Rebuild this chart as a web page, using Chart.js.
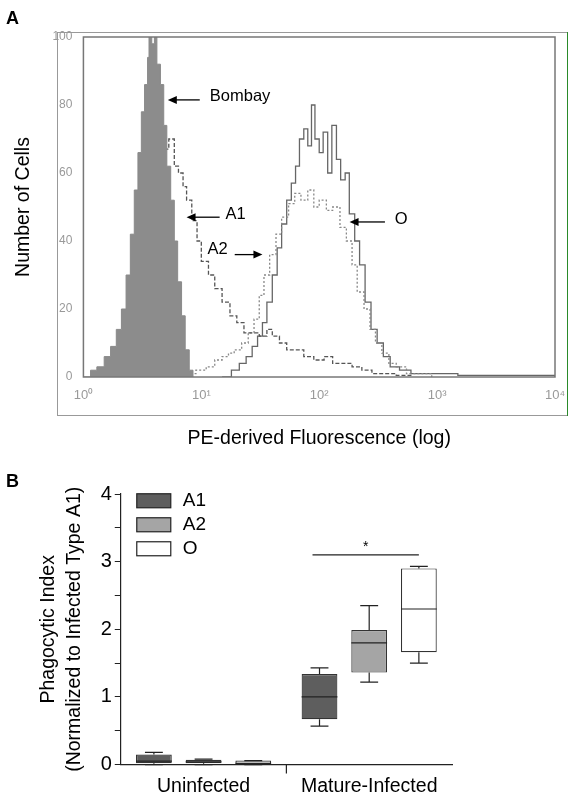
<!DOCTYPE html>
<html>
<head>
<meta charset="utf-8">
<script src="https://cdn.jsdelivr.net/npm/chart.js@4.4.1/dist/chart.umd.min.js"></script>
<style>
  body { margin: 0; background: #fff; font-family: "Liberation Sans", Arial, sans-serif; }
  #wrapA { position: absolute; left: 0; top: 0; width: 572px; height: 460px; }
  #wrapB { position: absolute; left: 0; top: 460px; width: 572px; height: 340px; }
</style>
</head>
<body>
<div id="wrapA"><canvas id="chartA"></canvas></div>
<div id="wrapB"><canvas id="chartB"></canvas></div>
<script>
// ---- panel A: histogram data (x = fluorescence, y = number of cells)
const bombayX = [1.0, 1.15, 1.3, 1.5, 1.7, 1.9, 2.1, 2.3, 2.5, 2.7, 2.9, 3.1, 3.3, 3.5, 3.6, 3.8, 4.0, 4.2, 4.5, 4.8, 5.1, 5.5, 5.9, 6.3, 6.8, 7.3, 7.9, 8.5];
const bombayY = [0, 2, 3, 6, 9, 14, 20, 30, 42, 55, 66, 78, 86, 94, 100, 98, 100, 92, 86, 74, 62, 52, 40, 28, 18, 8, 2, 0];
const a1X = [1.5, 1.7, 2.0, 2.3, 2.7, 3.0, 3.4, 3.8, 4.3, 4.8, 5.3, 5.9, 6.4, 7.0, 7.5, 8.3, 9.2, 10, 11.5, 13, 15, 17.5, 20, 23, 27, 31, 36, 40, 46, 53, 62, 74, 90, 110, 130, 160, 190, 230, 280, 350, 450, 600];
const a1Y = [0, 2, 8, 20, 35, 45, 52, 58, 64, 67, 70, 62, 60, 56, 52, 46, 40, 34, 30, 26, 22, 18, 16, 13, 13, 12, 14, 12, 10, 8, 8, 6, 5, 6, 4, 4, 3, 2, 1, 1, 0.5, 0];
const a2X = [7.5, 9, 11, 13, 15, 17, 19, 22, 25, 28, 31, 34, 38, 43, 48, 55, 62, 70, 80, 90, 100, 115, 130, 150, 170, 190, 210, 240, 270, 300, 340, 390, 450, 550, 700, 900];
const a2Y = [1, 2, 3, 5, 6, 7, 8, 10, 13, 17, 24, 30, 36, 42, 47, 51, 54, 52, 55, 50, 52, 49, 50, 44, 40, 33, 25, 20, 14, 10, 7, 4, 3, 1, 1, 0];
const oX = [15, 18, 21, 24, 27, 30, 33, 36, 40, 44, 48, 53, 58, 63, 68, 74, 80, 86, 92, 100, 108, 118, 128, 140, 152, 166, 180, 200, 220, 245, 275, 310, 350, 400, 480, 600, 900, 1500, 3000, 10000];
const oY = [0, 2, 4, 6, 9, 12, 16, 22, 30, 38, 45, 52, 57, 62, 70, 73, 68, 80, 70, 66, 72, 60, 74, 64, 58, 60, 48, 40, 33, 22, 14, 10, 6, 3, 2, 1, 1, 0.5, 0.5, 0];

// arrow labels: tip x, tail x, y, label, label x
const arrowTip = [5.2, 7.5, 33, 181];
const arrowTail = [9.7, 14.3, 19.2, 361];
const arrowY = [81.5, 47, 36, 45.6];
const arrowText = ['Bombay', 'A1', 'A2', 'O'];
const arrowTextX = [11.8, 16, 16.7, 437];

// ---- panel B: box plot data
const groups = ['Uninfected', 'Mature-Infected'];
const blood = ['A1', 'A2', 'O'];
const boxMin = [[0, 0.57], [0, 1.22], [0, 1.5]];
const boxQ1 = [[0.02, 0.67], [0.02, 1.36], [0.01, 1.66]];
const boxMed = [[0.05, 1.0], [0.04, 1.8], [0.02, 2.3]];
const boxQ3 = [[0.15, 1.34], [0.07, 1.99], [0.06, 2.9]];
const boxMax = [[0.18, 1.43], [0.08, 2.35], [0.06, 2.93]];
const boxColors = ['#5e5e5e', '#a5a5a5', '#ffffff'];

const font = '"Liberation Sans", Arial, sans-serif';

function pts(xs, ys) {
    return xs.map((x, i) => ({ x: x, y: ys[i] }));
}

// frame, panel letter, arrows with labels
const panelA = {
    id: 'panelA',
    afterDraw(chart) {
        const ctx = chart.ctx, xs = chart.scales.x, ys = chart.scales.y;
        const a = chart.chartArea;
        ctx.save();
        ctx.strokeStyle = '#999';
        ctx.lineWidth = 1;
        ctx.strokeRect(57.5, 32.5, 510, 383);
        ctx.strokeStyle = '#2a8a2a';
        ctx.beginPath(); ctx.moveTo(567.5, 32); ctx.lineTo(567.5, 416); ctx.stroke();
        ctx.strokeStyle = '#777';
        ctx.lineWidth = 1.5;
        ctx.strokeRect(a.left, a.top, a.right - a.left, a.bottom - a.top);
        ctx.fillStyle = '#000';
        ctx.font = 'bold 18px ' + font;
        ctx.fillText('A', 6, 24);
        ctx.font = '16.5px ' + font;
        ctx.lineWidth = 1.3;
        ctx.strokeStyle = '#000';
        ctx.textBaseline = 'middle';
        arrowText.forEach((t, i) => {
            const tx = xs.getPixelForValue(arrowTip[i]), ty = ys.getPixelForValue(arrowY[i]);
            const sx = xs.getPixelForValue(arrowTail[i]);
            const dir = sx > tx ? 1 : -1;
            ctx.beginPath(); ctx.moveTo(sx, ty); ctx.lineTo(tx + dir * 6, ty); ctx.stroke();
            ctx.beginPath();
            ctx.moveTo(tx, ty); ctx.lineTo(tx + dir * 9, ty - 4); ctx.lineTo(tx + dir * 9, ty + 4);
            ctx.closePath(); ctx.fill();
            const lx = xs.getPixelForValue(arrowTextX[i]);
            ctx.textAlign = dir > 0 ? 'left' : 'right';
            ctx.fillText(t, lx, t === 'A2' ? ty - 5 : ty - 3);
        });
        ctx.restore();
    }
};

new Chart(document.getElementById('chartA'), {
    type: 'line',
    data: {
        datasets: [
            { data: pts(bombayX, bombayY), borderColor: '#8a8a8a', backgroundColor: '#8c8c8c', fill: 'origin', borderWidth: 1, stepped: true },
            { data: pts(a1X, a1Y), borderColor: '#555', borderDash: [4, 2], borderWidth: 1.3, stepped: true },
            { data: pts(a2X, a2Y), borderColor: '#888', borderDash: [2, 2], borderWidth: 1.3, stepped: true },
            { data: pts(oX, oY), borderColor: '#666', borderWidth: 1.3, stepped: true }
        ]
    },
    options: {
        responsive: true, maintainAspectRatio: false, animation: false,
        layout: { padding: { left: 8, right: 17, top: 37, bottom: 6 } },
        elements: { point: { radius: 0 } },
        plugins: { legend: { display: false }, tooltip: { enabled: false } },
        scales: {
            x: {
                type: 'logarithmic', min: 1, max: 10000,
                afterBuildTicks: s => { s.ticks = [1, 10, 100, 1000, 10000].map(v => ({ value: v })); },
                ticks: { color: '#999', font: { family: font, size: 13 }, callback: v => ({ 1: '10⁰', 10: '10¹', 100: '10²', 1000: '10³', 10000: '10⁴' })[v] },
                grid: { display: false, drawOnChartArea: false },
                border: { display: false },
                title: { display: true, text: 'PE-derived Fluorescence (log)', color: '#000', font: { family: font, size: 19.5 }, padding: { top: 20 } }
            },
            y: {
                min: 0, max: 100,
                ticks: { stepSize: 20, color: '#999', font: { family: font, size: 12 } },
                grid: { display: false },
                border: { display: false },
                title: { display: true, text: 'Number of Cells', color: '#000', font: { family: font, size: 19.5 }, padding: { bottom: 14 } }
            }
        }
    },
    plugins: [panelA]
});

// boxes drawn as floating bars, whiskers/median/legend drawn on top
const floating = blood.map((b, i) => ({
    label: b,
    data: boxQ1[i].map((q, j) => [q, boxQ3[i][j]]),
    backgroundColor: boxColors[i],
    borderColor: '#333',
    borderWidth: 1.2,
    borderSkipped: false,
    categoryPercentage: 0.9,
    barPercentage: 0.72
}));

const panelB = {
    id: 'panelB',
    afterDatasetsDraw(chart) {
        const ctx = chart.ctx, ys = chart.scales.y, xs = chart.scales.x;
        ctx.save();
        ctx.strokeStyle = '#222';
        ctx.lineWidth = 1.2;
        blood.forEach((b, i) => {
            chart.getDatasetMeta(i).data.forEach((bar, j) => {
                const x = bar.x, w = bar.width / 2;
                const yMin = ys.getPixelForValue(boxMin[i][j]), yMax = ys.getPixelForValue(boxMax[i][j]);
                const yQ1 = ys.getPixelForValue(boxQ1[i][j]), yQ3 = ys.getPixelForValue(boxQ3[i][j]);
                const yMed = ys.getPixelForValue(boxMed[i][j]);
                ctx.beginPath();
                ctx.moveTo(x, yQ3); ctx.lineTo(x, yMax);
                ctx.moveTo(x - w / 2, yMax); ctx.lineTo(x + w / 2, yMax);
                ctx.moveTo(x, yQ1); ctx.lineTo(x, yMin);
                ctx.moveTo(x - w / 2, yMin); ctx.lineTo(x + w / 2, yMin);
                ctx.moveTo(x - w, yMed); ctx.lineTo(x + w, yMed);
                ctx.stroke();
            });
        });
        // separator tick between categories
        const sep = (xs.getPixelForValue(0) + xs.getPixelForValue(1)) / 2;
        ctx.beginPath(); ctx.moveTo(sep, ys.bottom); ctx.lineTo(sep, ys.bottom + 9); ctx.stroke();
        // significance bar from A1 to O in the infected group
        const x1 = chart.getDatasetMeta(0).data[1].x - 7, x2 = chart.getDatasetMeta(2).data[1].x;
        const yS = ys.getPixelForValue(3.1);
        ctx.beginPath(); ctx.moveTo(x1, yS); ctx.lineTo(x2, yS); ctx.stroke();
        ctx.fillStyle = '#000';
        ctx.font = '14px ' + font;
        ctx.textAlign = 'center';
        ctx.fillText('*', (x1 + x2) / 2, yS - 4);
        // legend
        ctx.font = '19px ' + font;
        ctx.textAlign = 'left';
        ctx.textBaseline = 'middle';
        blood.forEach((b, i) => {
            const ly = ys.getPixelForValue(3.9) + i * 24;
            const lx = ys.right + 16;
            ctx.fillStyle = boxColors[i];
            ctx.fillRect(lx, ly - 7, 34, 14);
            ctx.strokeRect(lx, ly - 7, 34, 14);
            ctx.fillStyle = '#000';
            ctx.fillText(b, lx + 46, ly);
        });
        ctx.font = 'bold 18px ' + font;
        ctx.fillText('B', 6, 22);
        ctx.restore();
    }
};

new Chart(document.getElementById('chartB'), {
    type: 'bar',
    data: { labels: groups, datasets: floating },
    options: {
        responsive: true, maintainAspectRatio: false, animation: false,
        layout: { padding: { left: 31, right: 120, top: 34, bottom: 0 } },
        plugins: { legend: { display: false }, tooltip: { enabled: false } },
        scales: {
            x: {
                grid: { display: false },
                border: { color: '#222', width: 1.2 },
                ticks: { color: '#000', font: { family: font, size: 19.5 }, padding: 2 }
            },
            y: {
                min: 0, max: 4,
                ticks: { stepSize: 0.5, color: '#000', font: { family: font, size: 20 }, callback: v => Number.isInteger(v) ? v : '' },
                grid: { drawOnChartArea: false, tickLength: 6, color: '#222' },
                border: { color: '#222', width: 1.2 },
                title: { display: true, text: ['Phagocytic Index', '(Normalized to Infected Type A1)'], color: '#000', font: { family: font, size: 19.5, lineHeight: 1.35 }, padding: { bottom: 10 } }
            }
        }
    },
    plugins: [panelB]
});
</script>
</body>
</html>
